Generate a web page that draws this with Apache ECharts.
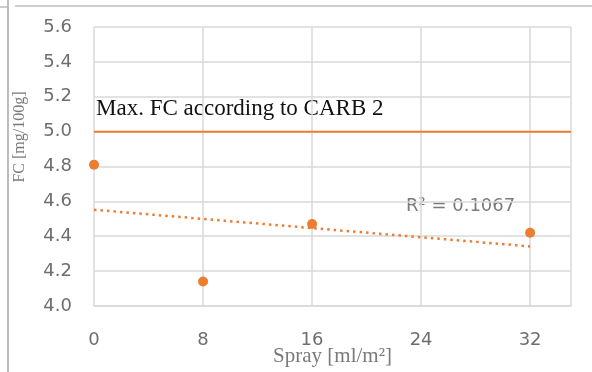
<!DOCTYPE html>
<html>
<head>
<meta charset="utf-8">
<script src="https://cdn.jsdelivr.net/npm/echarts@6/dist/echarts.min.js"></script>
<style>html,body{margin:0;padding:0;background:#fff;}#c{width:592px;height:372px;}</style>
</head>
<body>
<div id="c"></div>
<script>
var sprayValues = [0, 8, 16, 32];
var fcValues = [4.81, 4.14, 4.47, 4.42];
var xTicks = [0, 8, 16, 24, 32];
var yTicks = [4.0, 4.2, 4.4, 4.6, 4.8, 5.0, 5.2, 5.4, 5.6];
var carbLimit = 5.0;
var xAxisMax = 35;
var r2Text = 'R² = 0.1067';
var limitText = 'Max. FC according to CARB 2';
var xTitle = 'Spray [ml/m²]';
var yTitle = 'FC [mg/100g]';

// linear regression trendline (Excel-style) from the data
var n = sprayValues.length, mx = 0, my = 0;
for (var i = 0; i < n; i++) { mx += sprayValues[i]; my += fcValues[i]; }
mx /= n; my /= n;
var sxy = 0, sxx = 0;
for (var i = 0; i < n; i++) { sxy += (sprayValues[i]-mx)*(fcValues[i]-my); sxx += (sprayValues[i]-mx)*(sprayValues[i]-mx); }
var slope = sxy / sxx, icpt = my - slope * mx;
var xFirst = sprayValues[0], xLast = sprayValues[n-1];
var trend = [[xFirst, icpt + slope*xFirst], [xLast, icpt + slope*xLast]];

var orange = '#ED7D31';
var grid = {left: 94, right: 21, top: 27, bottom: 66, containLabel: false, outerBoundsMode: 'none'};
var chart = echarts.init(document.getElementById('c'));
chart.setOption({
  animation: false,
  grid: grid,
  xAxis: {
    type: 'value', min: 0, max: xAxisMax, interval: 8,
    name: xTitle, nameLocation: 'middle', nameGap: 40, nameMoveOverlap: false,
    nameTextStyle: {fontFamily: 'Liberation Serif', fontSize: 21, color: '#7a7a7a'},
    axisLine: {show: true, lineStyle: {color: '#d9d9d9', width: 1.5}},
    axisTick: {show: false},
    axisLabel: {showMaxLabel: false, margin: 25, fontFamily: 'DejaVu Sans', fontSize: 18, color: '#6e6e6e'},
    splitLine: {show: true, lineStyle: {color: '#d9d9d9', width: 1.5}}
  },
  yAxis: {
    type: 'value', min: yTicks[0], max: yTicks[yTicks.length-1], interval: 0.2,
    axisLine: {show: false}, axisTick: {show: false},
    axisLabel: {margin: 22, fontFamily: 'DejaVu Sans', fontSize: 18, color: '#6e6e6e',
      formatter: function(v){ return v.toFixed(1); }},
    splitLine: {show: true, lineStyle: {color: '#d9d9d9', width: 1.5}}
  },
  series: [
    {
      type: 'line', data: [[0, carbLimit], [xAxisMax, carbLimit]], symbol: 'none',
      lineStyle: {color: orange, width: 2}, silent: true, z: 3
    },
    {
      type: 'line', data: trend, symbol: 'none',
      lineStyle: {color: orange, width: 2.5, type: [2.5, 4]}, z: 4
    },
    {
      type: 'scatter', data: sprayValues.map(function(x, i){ return [x, fcValues[i]]; }),
      symbolSize: 10, itemStyle: {color: orange, opacity: 1}, z: 5
    }
  ],
  graphic: [
    {type: 'line', shape: {x1: 8, y1: 0, x2: 8, y2: 372}, style: {stroke: '#bdbdbd', lineWidth: 2}},
    {type: 'line', shape: {x1: 0, y1: 7, x2: 8, y2: 7}, style: {stroke: '#bdbdbd', lineWidth: 1.5}},
    {type: 'line', shape: {x1: 15, y1: 6, x2: 592, y2: 6}, style: {stroke: '#cfcfcf', lineWidth: 2}},
    {type: 'text', x: 20, y: 137, rotation: Math.PI/2,
      style: {text: yTitle, font: '16px "Liberation Serif"', fill: '#7a7a7a', align: 'center', verticalAlign: 'middle'}},
    {type: 'text', left: 96, top: 97, style: {text: limitText, font: '23px "Liberation Serif"', fill: '#111'}},
    {type: 'text', left: 406, top: 197, style: {text: r2Text, font: '18px "DejaVu Sans"', fill: '#7a7a7a'}}
  ]
});
</script>
</body>
</html>
